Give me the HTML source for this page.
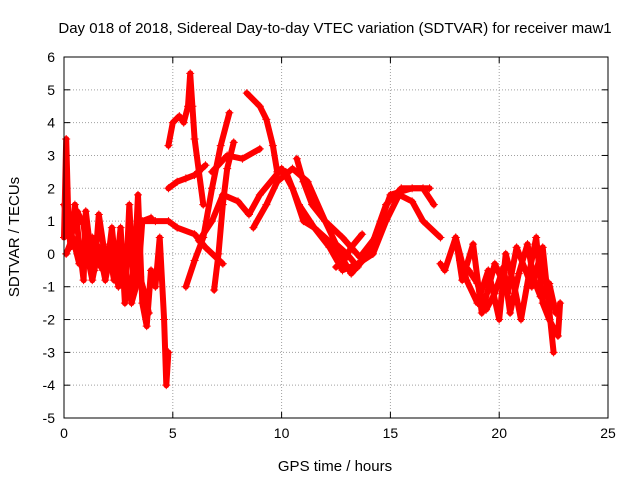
<!DOCTYPE html>
<html><head><meta charset="utf-8"><style>
body{margin:0;background:#fff;}
svg{display:block;font-family:"Liberation Sans",sans-serif;}
</style></head><body>
<svg id="chart" width="640" height="480">
<text x="335" y="33" font-size="15" text-anchor="middle">Day 018 of 2018, Sidereal Day-to-day VTEC variation (SDTVAR) for receiver maw1</text>
<text x="335" y="471" font-size="15" text-anchor="middle">GPS time / hours</text>
<text x="19" y="237" font-size="15" text-anchor="middle" transform="rotate(-90 19 237)">SDTVAR / TECUs</text>
<g id="grid"></g><g id="ticks"></g><g id="marks"></g>
<rect x="64" y="57" width="544" height="361" fill="none" stroke="#000" stroke-width="1"/>
</svg>
<script>
const xTicks=[0,5,10,15,20,25];
const yTicks=[-5,-4,-3,-2,-1,0,1,2,3,4,5,6];
const trackA=[[0,0.5],[0.1,3.5],[0.2,1],[0.3,0.2],[0.5,1.5],[0.7,0.3],[0.9,-0.8],[1.0,1.3],[1.2,0.2],[1.4,-0.5],[1.6,1.2],[1.8,0.3],[2.0,-0.3],[2.2,0.8],[2.4,-0.5],[2.6,0.8],[2.8,-1.5],[3.0,1.5],[3.2,-1],[3.4,1.8],[3.6,-1.5],[3.8,-2.2],[4.0,-0.5],[4.2,-1],[4.4,0.5],[4.6,-2],[4.7,-4],[4.8,-3]];
const trackA2=[[0,1.5],[0.3,0.8],[0.6,1.3],[0.9,0.9],[1.1,-0.3],[1.3,0.5],[1.5,-0.2],[1.8,-0.5],[2.1,0],[2.3,-0.8],[2.6,-0.2],[2.9,-0.8],[3.1,-1.2],[3.3,0.5],[3.5,-0.7],[3.7,-1.2],[3.9,-1.8]];
const trackA3=[[0.1,0],[0.4,0.5],[0.7,-0.3],[1.0,0.2],[1.3,-0.8],[1.6,0.2],[1.9,-0.8],[2.2,0.2],[2.5,-1],[2.8,-0.3],[3.1,-1.5],[3.4,-0.8],[3.6,1],[4.0,1.1]];
const trackB=[[3.5,1],[4.2,1],[4.8,1],[5.2,0.8],[6.0,0.6],[6.5,0.2],[7.3,-0.3]];
const trackC=[[4.8,3.3],[5.0,4.0],[5.3,4.2],[5.5,4.0],[5.7,4.5],[5.8,5.5],[5.9,4.5],[6.0,3.5],[6.2,2.5],[6.4,1.5]];
const trackD=[[4.8,2],[5.2,2.2],[5.6,2.3],[6.0,2.4],[6.5,2.7]];
const trackE=[[5.6,-1],[6.0,-0.2],[6.4,0.5],[6.8,2],[7.2,3.3],[7.6,4.3]];
const trackE2=[[6.9,-1.1],[7.1,0],[7.3,1.5],[7.5,2.6],[7.8,3.4]];
const trackF=[[6.8,2.5],[7.5,3],[8.2,2.9],[9.0,3.2]];
const trackG=[[6.2,0.4],[6.8,1],[7.3,1.8],[8,1.6],[8.5,1.2],[9.0,1.8],[10.0,2.6],[10.5,2.0],[11,1],[11.5,0.8],[12.5,0.2],[13.2,-0.6],[14,0],[14.8,1.5],[15.5,2],[16.5,2],[17,1.5]];
const trackH=[[8.4,4.9],[9.0,4.5],[9.3,4.1],[9.6,3.3],[9.8,2.5],[10.2,2.5],[10.8,1.5],[11.5,0.8],[12.2,0.2],[12.8,-0.5],[13.5,-0.3],[14.2,0],[14.8,1],[15.4,1.8],[16,1.6],[16.5,1],[17.3,0.5]];
const trackH2=[[10.7,2.9],[11.0,2.2],[11.4,1.5],[12.0,1.0],[12.5,0.3],[13.0,0],[13.5,-0.4]];
const trackI=[[8.7,0.8],[9.3,1.5],[9.8,2.2],[10.5,2.6],[11.2,2.2],[12,1],[12.8,0.5],[13.6,-0.1],[14.3,0.5],[15,1.8],[16,2],[16.8,2]];
const trackI2=[[12.5,-0.4],[12.8,-0.3],[13.2,0.2],[13.7,0.6]];
const trackJ=[[17.3,-0.3],[17.5,-0.5],[18,0.5],[18.5,-0.8],[19,-1.5],[19.5,-0.5],[20,-2],[20.3,0],[20.7,-1],[21,-2],[21.4,-0.5],[21.7,0.5],[22,-1.5],[22.3,-2],[22.7,-2.5],[22.8,-1.5]];
const trackK=[[18,0.5],[18.3,-0.8],[18.8,0.3],[19.2,-1.8],[19.8,-0.3],[20.4,-1.2],[20.8,0.2],[21.5,-1],[22,0.2],[22.5,-3]];
const trackK2=[[18.2,-0.2],[18.6,-0.5],[19.0,-0.9],[19.4,-1.7],[19.8,-1.2],[20.2,-0.4],[20.5,-1.8],[20.9,-0.6],[21.3,0.3],[21.6,-0.8],[21.9,-1.3],[22.3,-0.9],[22.6,-1.8]];
const tracks=[trackA,trackA2,trackA3,trackB,trackC,trackD,trackE,trackE2,trackF,trackG,trackH,trackH2,trackI,trackI2,trackJ,trackK,trackK2];
const NS="http://www.w3.org/2000/svg";
const X0=64,X1=608,Y0=418,Y1=57;
function sx(v){return X0+(v-0)/(25-0)*(X1-X0);}
function sy(v){return Y0-(v+5)/(11)*(Y0-Y1);}
function mk(t,a,p){const e=document.createElementNS(NS,t);for(const k in a)e.setAttribute(k,a[k]);p.appendChild(e);return e;}
const grid=document.getElementById('grid'),ticks=document.getElementById('ticks'),marks=document.getElementById('marks');
xTicks.forEach(v=>{const x=sx(v);
 if(v>0&&v<25){const l=mk('line',{x1:x,x2:x,y1:Y1,y2:Y0,stroke:'#a0a0a0','stroke-dasharray':'1,2'},grid);
 
 }
 mk('line',{x1:x,x2:x,y1:Y0,y2:Y0-6,stroke:'#000'},ticks);mk('line',{x1:x,x2:x,y1:Y1,y2:Y1+6,stroke:'#000'},ticks);
 const t=mk('text',{x:x,y:Y0+20,'font-size':14,'text-anchor':'middle'},ticks);t.textContent=v;
 
 });
yTicks.forEach(v=>{const y=sy(v);
 if(v>-5&&v<6){const l=mk('line',{x1:X0,x2:X1,y1:y,y2:y,stroke:'#a0a0a0','stroke-dasharray':'1,2'},grid);
 
 }
 mk('line',{x1:X0,x2:X0+6,y1:y,y2:y,stroke:'#000'},ticks);mk('line',{x1:X1,x2:X1-6,y1:y,y2:y,stroke:'#000'},ticks);
 const t=mk('text',{x:X0-9,y:y+5,'font-size':14,'text-anchor':'end'},ticks);t.textContent=v;
 
 });
tracks.forEach((tr,i)=>{
 const d=tr.map((p,j)=>(j?'L':'M')+sx(p[0]).toFixed(1)+','+sy(p[1]).toFixed(1)).join('');
 const path=mk('path',{d:d,fill:'none',stroke:'#ff0000','stroke-width':6,'stroke-linejoin':'round','stroke-linecap':'round'},marks);
 
 
 tr.forEach(p=>{const x=sx(p[0]),y=sy(p[1]);
  const g=mk('path',{d:`M${x-4},${y}H${x+4}M${x},${y-4}V${y+4}`,stroke:'#ff0000','stroke-width':1},marks);
  
  });
});
</script>
</body></html>
